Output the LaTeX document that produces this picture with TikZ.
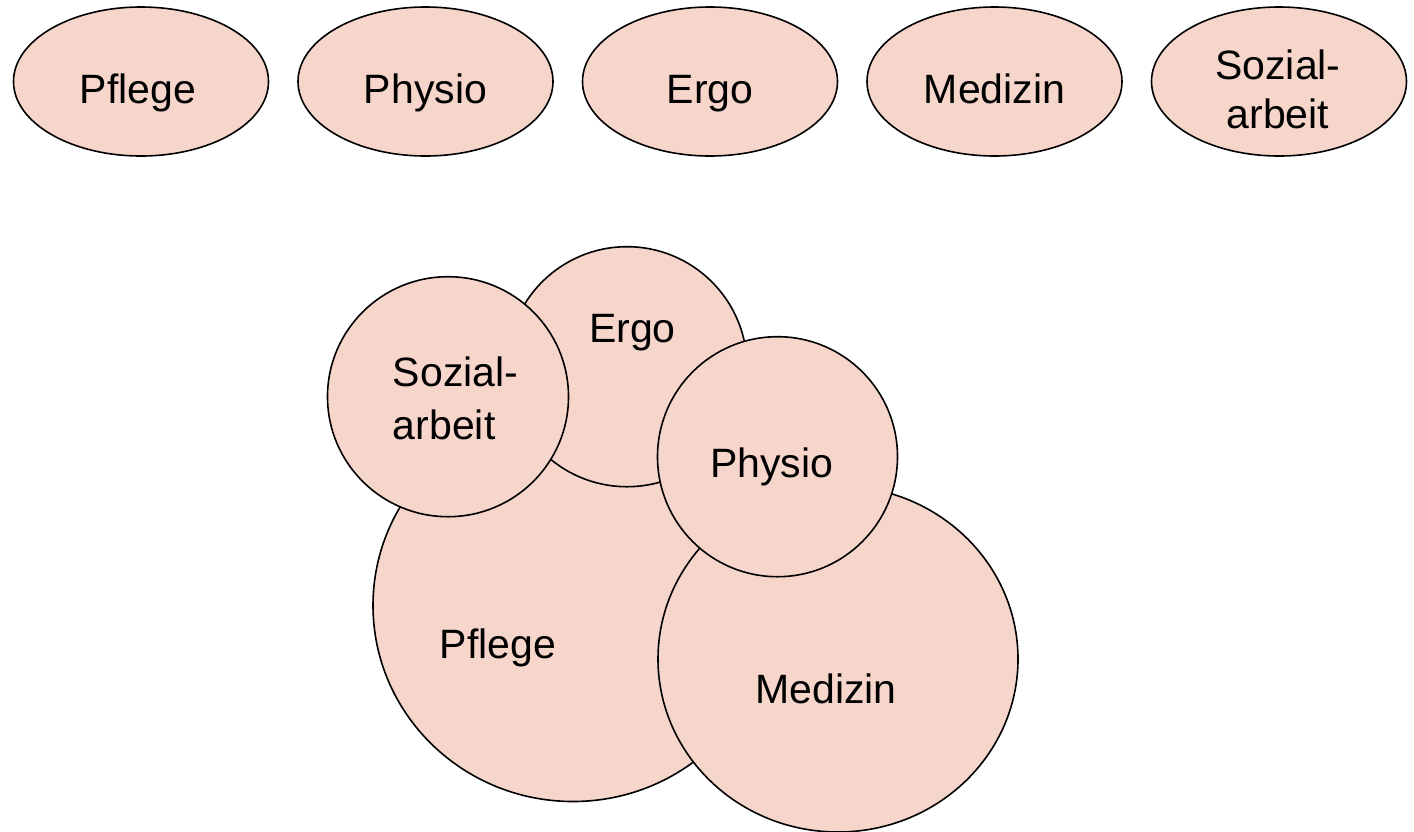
\documentclass[tikz,border=0pt]{standalone}
\usepackage{fontspec}
\setmainfont{Liberation Sans}
\usetikzlibrary{shapes.geometric}
\definecolor{blobfill}{RGB}{246,213,203}
\tikzset{
  oval/.style={ellipse, draw=black, line width=1.6pt, fill=blobfill, minimum width=255pt, minimum height=149pt, inner sep=0pt},
  blob/.style={ellipse, draw=black, line width=1.6pt, fill=blobfill, inner sep=0pt},
  lbl/.style={font=\fontsize{41}{49}\selectfont, inner sep=0pt, anchor=base},
}
\begin{document}
\begin{tikzpicture}[x=1pt,y=-1pt]
\useasboundingbox (0,0) rectangle (1414,831);
% top row
\node[oval] (e1) at (141,81.5) {};
\node[oval] (e2) at (425.5,81.5) {};
\node[oval] (e3) at (710,81.5) {};
\node[oval] (e4) at (994.5,81.5) {};
\node[oval] (e5) at (1279,81.5) {};
\node[lbl] (t1) at (138,103) {Pflege};
\node[lbl] (t2) at (425.5,103) {Physio};
\node[lbl] (t3) at (710,103) {Ergo};
\node[lbl] (t4) at (994.5,103) {Medizin};
\node[lbl, align=center] (t5) at (1278,128.3) {Sozial-\\arbeit};
% overlapping shapes
\node[blob, minimum width=400pt, minimum height=392pt] (cPflege) at (573,605.5) {};
\node[blob, minimum width=360pt, minimum height=346pt] (cMedizin) at (838,659) {};
\node[blob, minimum width=240pt, minimum height=240pt] (cErgo) at (627,366.7) {};
\node[blob, minimum width=241pt, minimum height=240pt] (cSozial) at (448,396.7) {};
\node[blob, minimum width=240pt, minimum height=240pt] (cPhysio) at (777.5,456.7) {};
\node[lbl] (lErgo) at (632.5,342.7) {Ergo};
\node[lbl, anchor=base west, align=left, font=\fontsize{41}{52.3}\selectfont] (lSozial) at (392.7,439) {Sozial-\\arbeit};
\node[lbl] (lPhysio) at (771.7,477.3) {Physio};
\node[lbl] (lMedizin) at (826,703.3) {Medizin};
\node[lbl] (lPflege) at (498,658.3) {Pflege};
\end{tikzpicture}
\end{document}
